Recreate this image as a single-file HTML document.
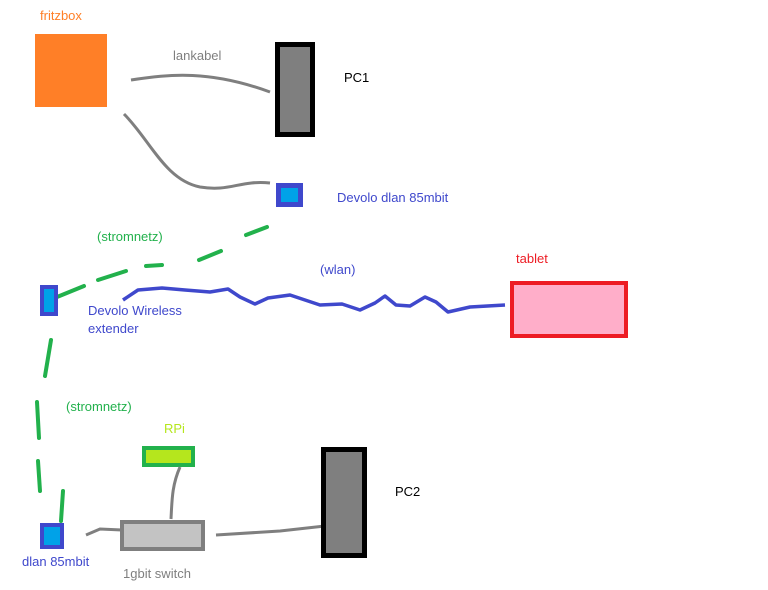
<!DOCTYPE html>
<html><head><style>body{margin:0;background:#fff}svg{display:block}text{font-family:"Liberation Sans",sans-serif;font-size:13px}</style></head>
<body>
<svg width="768" height="590" xmlns="http://www.w3.org/2000/svg">
<rect width="768" height="590" fill="#fff"/>
<text x="40" y="20" fill="#ff7f27">fritzbox</text>
<rect x="35" y="34" width="72" height="73" fill="#ff7f27"/>
<text x="173" y="60" fill="#7f7f7f">lankabel</text>
<path d="M131,80 C170,74 210,70 270,92" stroke="#7f7f7f" stroke-width="3" fill="none"/>
<rect x="277.5" y="44.5" width="35" height="90" fill="#7f7f7f" stroke="#000" stroke-width="5"/>
<text x="344" y="82" fill="#000">PC1</text>
<path d="M124,114 C150,140 165,180 200,187 C230,192 240,180 270,183" stroke="#7f7f7f" stroke-width="3" fill="none"/>
<rect x="278.5" y="185.5" width="22" height="19" fill="#00a2e8" stroke="#3f48cc" stroke-width="5"/>
<text x="337" y="202" fill="#3f48cc">Devolo dlan 85mbit</text>
<text x="97" y="241" fill="#22b14c">(stromnetz)</text>
<g stroke="#22b14c" stroke-width="4" stroke-linecap="round" fill="none">
<path d="M267,227 L246,235"/><path d="M221,251 L199,260"/><path d="M162,265 L146,266"/><path d="M126,271 L98,280"/><path d="M84,286 L57,297"/>
<path d="M51,340 L45,376"/><path d="M37,402 L39,438"/><path d="M38,461 L40,491"/><path d="M63,491 L61,521"/>
</g>
<rect x="42" y="287" width="14" height="27" fill="#00a2e8" stroke="#3f48cc" stroke-width="4"/>
<path d="M123,300 L138,290 L162,288 L185,290 L210,292 L228,289 L240,297 L255,304 L268,298 L290,295 L305,300 L320,305 L342,304 L360,310 L375,303 L385,296 L396,305 L410,306 L425,297 L436,302 L448,312 L470,307 L505,305" stroke="#3f48cc" stroke-width="3.5" fill="none" stroke-linejoin="round"/>
<text x="88" y="315" fill="#3f48cc">Devolo Wireless</text>
<text x="88" y="333" fill="#3f48cc">extender</text>
<text x="320" y="274" fill="#3f48cc">(wlan)</text>
<text x="516" y="263" fill="#ed1c24">tablet</text>
<rect x="512" y="283" width="114" height="53" fill="#ffaec9" stroke="#ed1c24" stroke-width="4"/>
<text x="66" y="411" fill="#22b14c">(stromnetz)</text>
<text x="164" y="433" fill="#b5e61d">RPi</text>
<rect x="144" y="448" width="49" height="17" fill="#b5e61d" stroke="#22b14c" stroke-width="4"/>
<path d="M180,467 C172,485 172,500 171,519" stroke="#7f7f7f" stroke-width="3" fill="none"/>
<rect x="122" y="522" width="81" height="27" fill="#c3c3c3" stroke="#7f7f7f" stroke-width="4"/>
<rect x="42" y="525" width="20" height="22" fill="#00a2e8" stroke="#3f48cc" stroke-width="4"/>
<text x="22" y="566" fill="#3f48cc">dlan 85mbit</text>
<path d="M86,535 L100,529 L122,530" stroke="#7f7f7f" stroke-width="3" fill="none"/>
<path d="M216,535 L280,531 L325,526" stroke="#7f7f7f" stroke-width="3" fill="none"/>
<rect x="323.5" y="449.5" width="41" height="106" fill="#7f7f7f" stroke="#000" stroke-width="5"/>
<text x="395" y="496" fill="#000">PC2</text>
<text x="123" y="578" fill="#7f7f7f">1gbit switch</text>
</svg>
</body></html>
